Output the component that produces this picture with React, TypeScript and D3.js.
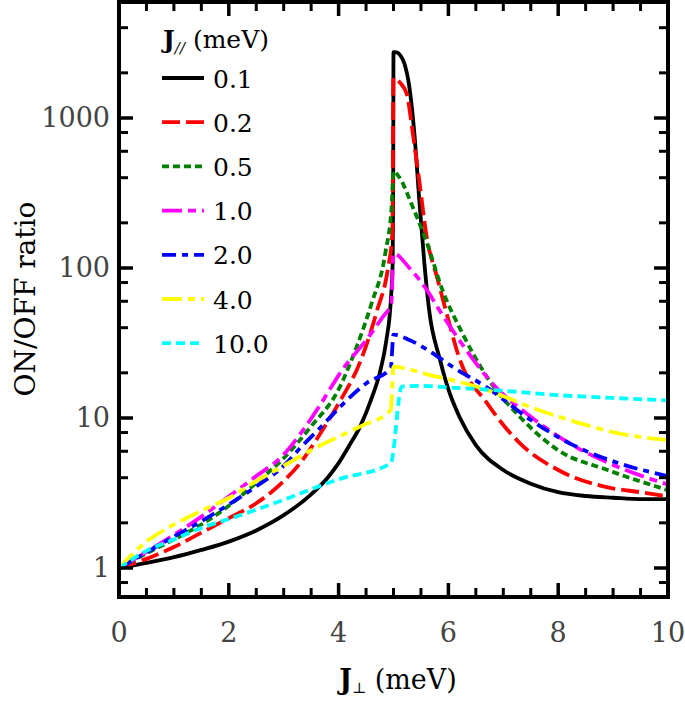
import React, { useEffect, useRef } from 'react';
import * as d3 from 'd3';

type Pt = [number, number];

// J_perp (meV) vs ON/OFF ratio, one array per J_par value
const ratio01: Pt[] = [
  [0, 1], [0.5, 1.08], [1, 1.18], [1.5, 1.32], [2, 1.5], [2.5, 1.78], [3, 2.25], [3.5, 3.1],
  [3.8, 4.0], [4, 5.0], [4.2, 6.6], [4.4, 8.9], [4.6, 13.5], [4.75, 20], [4.87, 33], [4.95, 60],
  [4.985, 110], [4.995, 400], [5.0, 2750], [5.06, 2740], [5.13, 2600], [5.2, 2300], [5.29, 1600],
  [5.38, 790], [5.47, 283], [5.56, 110], [5.65, 52], [5.84, 25], [6, 15.5], [6.2, 10.2],
  [6.5, 6.6], [7, 4.5], [7.5, 3.65], [8, 3.2], [8.5, 3.02], [9, 2.94], [9.5, 2.88], [10, 2.88],
];
const ratio02: Pt[] = [
  [0, 1], [0.5, 1.15], [1, 1.38], [1.5, 1.72], [2, 2.15], [2.5, 2.7], [3, 3.8], [3.3, 5.0],
  [3.65, 7.7], [4, 12.5], [4.4, 24], [4.7, 52], [4.9, 100], [4.98, 170], [5.0, 1850],
  [5.1, 1750], [5.24, 1450], [5.35, 800], [5.47, 380], [5.6, 165], [5.8, 85], [6, 45],
  [6.2, 25], [6.7, 12.6], [7.3, 6.8], [8, 4.5], [8.9, 3.45], [9.5, 3.2], [10, 3.0],
];
const ratio05: Pt[] = [
  [0, 1], [0.5, 1.25], [1, 1.55], [1.5, 1.95], [2, 2.6], [2.5, 3.7], [3, 5.4], [3.5, 8.8],
  [4, 15.5], [4.3, 28], [4.6, 58], [4.85, 125], [4.97, 270], [5.0, 440], [5.1, 405],
  [5.35, 255], [5.6, 150], [5.9, 70], [6.25, 37], [6.7, 18.8], [7.3, 10.2], [8, 6.1],
  [8.9, 4.5], [10, 3.3],
];
const ratio10: Pt[] = [
  [0, 1], [0.5, 1.28], [1, 1.66], [1.5, 2.2], [2, 3.0], [2.5, 4.1], [3, 5.7], [3.3, 7.8],
  [3.65, 12], [4.07, 21], [4.5, 33], [4.8, 47], [4.96, 58], [5.0, 125], [5.29, 100],
  [5.6, 72], [5.84, 52], [6.2, 33], [6.8, 17], [7.5, 10.2], [8.2, 6.8], [9.1, 4.7], [10, 3.6],
];
const ratio20: Pt[] = [
  [0, 1], [0.5, 1.27], [1, 1.62], [1.5, 2.05], [2, 2.65], [2.5, 3.5], [3, 4.8], [3.3, 6.3],
  [3.65, 8.5], [4.07, 12.3], [4.5, 17], [4.95, 21.5], [5.0, 36], [5.3, 33], [5.65, 28],
  [6.07, 22], [6.7, 16], [7.5, 9.7], [8.2, 6.8], [9.1, 5.0], [10, 4.1],
];
const ratio40: Pt[] = [
  [0, 1], [0.5, 1.5], [1, 1.95], [1.5, 2.4], [2, 2.93], [2.5, 3.8], [3, 4.8], [3.5, 6.1],
  [4, 7.5], [4.4, 8.8], [4.95, 11.3], [5.0, 22], [5.3, 21], [5.65, 19.4], [6.07, 17.9],
  [6.7, 15.4], [7.5, 11.8], [8.2, 9.7], [9.1, 7.9], [10, 7.1],
];
const ratio100: Pt[] = [
  [0, 1], [0.5, 1.3], [1, 1.55], [1.5, 1.85], [2, 2.12], [2.5, 2.45], [3, 2.85], [3.5, 3.35],
  [4, 3.9], [4.95, 5.0], [5.15, 16.2], [5.5, 16.4], [6, 16], [7, 15.2], [8, 14.2], [9, 13.6],
  [10, 13.1],
];

const legendLabels = ['0.1', '0.2', '0.5', '1.0', '2.0', '4.0', '10.0'];
const xMajorTicks = [0, 2, 4, 6, 8, 10];
const yMajorTicks = [1, 10, 100, 1000];

const allSeries = [ratio01, ratio02, ratio05, ratio10, ratio20, ratio40, ratio100];
const colors = ['#000000', '#ff0000', '#008000', '#ff00ff', '#0000ff', '#ffff00', '#00ffff'];
const dashes = ['none', '18,6', '7,4', '20,6,8,6', '14,6,6,6', '20,6,7,6', '9,5'];

const App: React.FC = () => {
  const svgRef = useRef<SVGSVGElement>(null);

  useEffect(() => {
    if (!svgRef.current) return;
    const svg = d3.select(svgRef.current);
    svg.selectAll('*').remove();

    const left = 119, right = 668, top = 2, bottom = 597;
    const font = 'DejaVu Serif';

    const x = d3.scaleLinear().domain([0, 10]).range([left, right]);
    const y = d3.scaleLog().domain([1, 1000]).range([568, 118]);

    svg.append('defs').append('clipPath').attr('id', 'plot-clip')
      .append('rect')
      .attr('x', left).attr('y', top)
      .attr('width', right - left).attr('height', bottom - top);

    const line = d3.line<Pt>()
      .x(d => x(d[0]))
      .y(d => y(d[1]))
      .curve(d3.curveMonotoneX);

    const curves = svg.append('g').attr('clip-path', 'url(#plot-clip)');
    allSeries.forEach((s, i) => {
      curves.append('path')
        .datum(s)
        .attr('d', line)
        .attr('fill', 'none')
        .attr('stroke', colors[i])
        .attr('stroke-width', 3.8)
        .attr('stroke-dasharray', dashes[i]);
    });

    // ticks on all four sides, pointing in
    const ticks = svg.append('g').attr('stroke', '#000');
    const majLen = 14, minLen = 9;
    const xMinor = d3.range(0.5, 10, 0.5).filter(v => v % 2 !== 0);
    const addX = (v: number, len: number, w: number) => {
      ticks.append('line').attr('x1', x(v)).attr('x2', x(v))
        .attr('y1', bottom).attr('y2', bottom - len).attr('stroke-width', w);
      ticks.append('line').attr('x1', x(v)).attr('x2', x(v))
        .attr('y1', top).attr('y2', top + len).attr('stroke-width', w);
    };
    xMajorTicks.forEach(v => addX(v, majLen, 3.5));
    xMinor.forEach(v => addX(v, minLen, 3));

    const yMinor: number[] = [];
    [0.1, 1, 10, 100, 1000].forEach(d => [2, 4, 6, 8].forEach(m => yMinor.push(d * m)));
    const addY = (v: number, len: number, w: number) => {
      const py = y(v);
      if (py < top + 3 || py > bottom - 3) return;
      ticks.append('line').attr('x1', left).attr('x2', left + len)
        .attr('y1', py).attr('y2', py).attr('stroke-width', w);
      ticks.append('line').attr('x1', right).attr('x2', right - len)
        .attr('y1', py).attr('y2', py).attr('stroke-width', w);
    };
    yMajorTicks.forEach(v => addY(v, majLen, 3.5));
    yMinor.forEach(v => addY(v, minLen, 3));

    // frame
    svg.append('rect')
      .attr('x', left).attr('y', top)
      .attr('width', right - left).attr('height', bottom - top)
      .attr('fill', 'none').attr('stroke', '#000').attr('stroke-width', 4);

    // tick labels
    svg.append('g').selectAll('text').data(xMajorTicks).join('text')
      .attr('x', d => x(d)).attr('y', 642)
      .attr('text-anchor', 'middle')
      .attr('font-family', font).attr('font-size', 27).attr('fill', '#444')
      .text(d => d);

    svg.append('g').selectAll('text').data(yMajorTicks).join('text')
      .attr('x', 110).attr('y', d => y(d)).attr('dy', '0.35em')
      .attr('text-anchor', 'end')
      .attr('font-family', font).attr('font-size', 27).attr('fill', '#444')
      .text(d => d);

    // axis titles
    const xt = svg.append('text')
      .attr('x', 398).attr('y', 689)
      .attr('text-anchor', 'middle')
      .attr('font-family', font).attr('font-size', 27).attr('fill', '#000');
    xt.append('tspan').attr('font-weight', 'bold').text('J');
    xt.append('tspan').attr('font-size', 15).attr('dy', 4).text('⊥');
    xt.append('tspan').attr('dy', -4).text(' (meV)');

    svg.append('text')
      .attr('transform', 'translate(35,299) rotate(-90)')
      .attr('text-anchor', 'middle')
      .attr('font-family', font).attr('font-size', 28).attr('fill', '#000')
      .text('ON/OFF ratio');

    // legend
    const lg = svg.append('g');
    const lt = lg.append('text')
      .attr('x', 163).attr('y', 48)
      .attr('font-family', font).attr('font-size', 25).attr('fill', '#000');
    lt.append('tspan').attr('font-weight', 'bold').text('J');
    lt.append('tspan').attr('font-size', 15).attr('font-style', 'italic').attr('dy', 5).text('//');
    lt.append('tspan').attr('dy', -5).text(' (meV)');

    legendLabels.forEach((lab, i) => {
      const ry = 78 + i * 44.2;
      lg.append('line')
        .attr('x1', 162).attr('x2', 204)
        .attr('y1', ry).attr('y2', ry)
        .attr('stroke', colors[i]).attr('stroke-width', 3.8)
        .attr('stroke-dasharray', dashes[i]);
      lg.append('text')
        .attr('x', 213).attr('y', ry).attr('dy', '0.38em')
        .attr('font-family', font).attr('font-size', 25).attr('fill', '#000')
        .text(lab);
    });
  }, []);

  return (
    <svg
      ref={svgRef}
      width={685}
      height={701}
      style={{ position: 'absolute', left: 0, top: 0, background: '#fff' }}
    />
  );
};

export default App;
